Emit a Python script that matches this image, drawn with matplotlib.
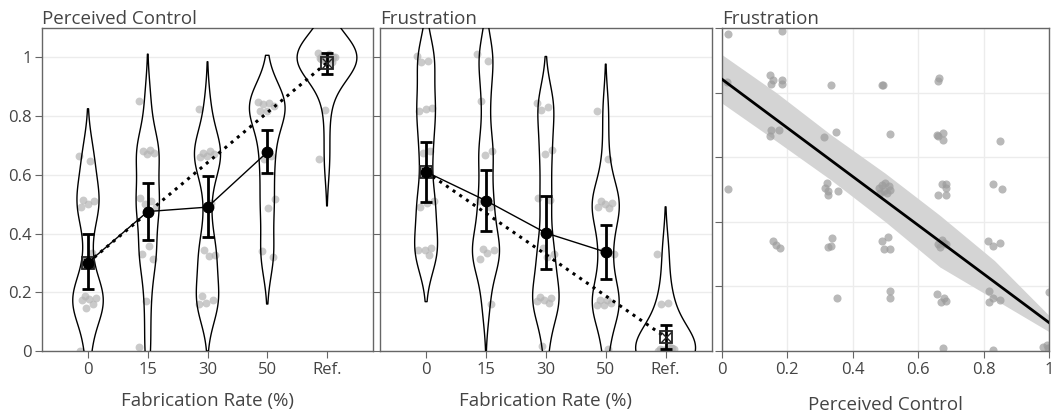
import numpy as np
import matplotlib.pyplot as plt

####figure settings####
plt.rcParams["font.family"] = ["Open Sans", "DejaVu Sans"]
plt.rcParams["axes.linewidth"] = 1.0
plt.rcParams["axes.edgecolor"] = "#666666"
plt.rcParams["xtick.color"] = "#666666"
plt.rcParams["ytick.color"] = "#666666"
plt.rcParams["xtick.labelcolor"] = "#444444"
plt.rcParams["ytick.labelcolor"] = "#444444"
plt.rcParams["xtick.labelsize"] = 12
plt.rcParams["ytick.labelsize"] = 12
plt.rcParams["xtick.major.size"] = 5
plt.rcParams["ytick.major.size"] = 5
plt.rcParams["xtick.major.pad"] = 3
plt.rcParams["ytick.major.pad"] = 2.5

####data####
groups = ["0", "15", "30", "50", "Ref."]

# perceived control, per group (jittered values as read)
pc_0 = [0.665, 0.646, 0.515, 0.512, 0.50, 0.49, 0.335, 0.188, 0.18, 0.178, 0.175, 0.16, 0.147, 0.0]
pc_15 = [0.851, 0.684, 0.68, 0.675, 0.67, 0.52, 0.51, 0.50, 0.49, 0.356, 0.33, 0.313, 0.171, 0.015]
pc_30 = [0.825, 0.68, 0.675, 0.67, 0.665, 0.66, 0.504, 0.345, 0.328, 0.324, 0.188, 0.174, 0.165, 0.16]
pc_50 = [0.847, 0.843, 0.84, 0.835, 0.819, 0.817, 0.665, 0.655, 0.518, 0.487, 0.339, 0.32]
pc_ref = [1.015, 1.01, 1.005, 1.0, 1.0, 0.998, 0.995, 0.99, 1.002, 1.008, 0.996, 0.985, 0.822, 0.654]

# frustration, per group
fr_0 = [1.004, 0.987, 0.984, 0.828, 0.825, 0.817, 0.68, 0.675, 0.51, 0.504, 0.489, 0.35, 0.345, 0.345, 0.328]
fr_15 = [1.01, 0.987, 0.851, 0.68, 0.669, 0.51, 0.49, 0.347, 0.345, 0.333, 0.313, 0.16]
fr_30 = [0.843, 0.832, 0.82, 0.684, 0.671, 0.521, 0.513, 0.35, 0.33, 0.32, 0.183, 0.18, 0.172, 0.17, 0.163, 0.017]
fr_50 = [0.817, 0.654, 0.51, 0.504, 0.50, 0.49, 0.487, 0.34, 0.33, 0.172, 0.172, 0.165, 0.157, 0.157, 0.006]
fr_ref = [0.331, 0.165, 0.16, 0.01, 0.005, 0.0, 0.012, 0.003, 0.008, 0.0, 0.006, 0.01, 0.004]

# estimated means and intervals for 0/15/30/50
pc_mean = [0.301, 0.475, 0.490, 0.677]
pc_lo = [0.211, 0.379, 0.387, 0.606]
pc_hi = [0.398, 0.572, 0.595, 0.751]
fr_mean = [0.610, 0.512, 0.402, 0.337]
fr_lo = [0.506, 0.407, 0.279, 0.245]
fr_hi = [0.711, 0.615, 0.529, 0.429]

# reference line (0 -> Ref.)
pc_ref_line = [0.301, 0.982]
pc_ref_lo, pc_ref_hi = 0.942, 1.014
fr_ref_line = [0.610, 0.047]
fr_ref_lo, fr_ref_hi = 0.007, 0.089

# scatter: perceived control vs frustration
sc_pc = [0.02, 0.183, 0.015, 0.148, 0.158, 0.151, 0.183, 0.185, 0.333, 0.489, 0.494, 0.665, 0.66,
         0.15, 0.175, 0.148, 0.313, 0.349, 0.514, 0.657, 0.677, 0.662, 0.677, 0.85,
         0.02, 0.321, 0.316, 0.326, 0.324, 0.354,
         0.48, 0.49, 0.50, 0.51, 0.495, 0.505, 0.515, 0.485,
         0.66, 0.672, 0.685, 0.685, 0.685, 0.83, 0.855,
         0.158, 0.166, 0.178, 0.324, 0.334, 0.336, 0.489, 0.507, 0.497, 0.514,
         0.66, 0.672, 0.68, 0.666, 0.685, 0.815, 0.828, 0.85,
         0.351, 0.514, 0.514, 0.657, 0.669, 0.68, 0.685, 0.818, 0.818, 0.828, 0.85, 1.0,
         0.677, 0.83, 0.983, 0.993, 0.997, 1.0]
sc_fr = [0.982, 0.992, 0.832, 0.853, 0.84, 0.827, 0.84, 0.827, 0.822, 0.825, 0.825, 0.845, 0.837,
         0.685, 0.685, 0.667, 0.661, 0.678, 0.673, 0.67, 0.675, 0.665, 0.654, 0.649,
         0.501, 0.52, 0.506, 0.494, 0.484, 0.494,
         0.505, 0.515, 0.52, 0.51, 0.495, 0.49, 0.50, 0.49,
         0.484, 0.516, 0.516, 0.505, 0.484, 0.518, 0.501,
         0.342, 0.329, 0.318, 0.323, 0.326, 0.349, 0.342, 0.352, 0.316, 0.315,
         0.33, 0.345, 0.335, 0.322, 0.33, 0.342, 0.326, 0.334,
         0.163, 0.186, 0.165, 0.176, 0.151, 0.165, 0.156, 0.186, 0.153, 0.165, 0.158, 0.184,
         0.008, 0.003, 0.013, 0.019, 0.008, 0.01]

# fitted line and band
fit_x = [0, 1]
fit_y = [0.842, 0.088]
band_x = [0, 1/6, 1/3, 1/2, 2/3, 5/6, 1]
band_hi = [0.918, 0.80, 0.67, 0.55, 0.42, 0.28, 0.11]
band_lo = [0.768, 0.65, 0.53, 0.40, 0.26, 0.16, 0.06]


def kde_stats(vals, bw=0.08, npts=300):
    d = np.asarray(vals, dtype=float)
    coords = np.linspace(d.min() - 2 * bw, d.max() + 2 * bw, npts)
    dens = np.exp(-0.5 * ((coords[:, None] - d[None, :]) / bw) ** 2).sum(1)
    dens = dens / (len(d) * bw * np.sqrt(2 * np.pi))
    return dict(coords=coords, vals=dens, mean=d.mean(), median=np.median(d),
                min=d.min(), max=d.max())


def violin_panel(ax, data, mean, lo, hi, ref_line, ref_lo, ref_hi):
    pos = np.arange(len(data))
    stats = [kde_stats(d) for d in data]
    peak = max(s["vals"].max() for s in stats)
    widths = [1.0 * s["vals"].max() / peak for s in stats]
    parts = ax.violin(stats, positions=pos, widths=widths,
                      showmeans=False, showextrema=False, showmedians=False)
    for b in parts["bodies"]:
        b.set_facecolor("none")
        b.set_edgecolor("black")
        b.set_linewidth(1.0)
        b.set_alpha(1)
        b.set_zorder(3)

    for i, d in enumerate(data):
        n = len(d)
        jit = ((np.arange(n) * 0.618) % 1 - 0.5) * 0.3
        ax.scatter(pos[i] + jit, d, s=32, color="#b4b4b4", alpha=0.7,
                   linewidths=0, zorder=2)

    x_ref = [pos[0], pos[-1]]
    ax.plot(x_ref, ref_line, ":", color="black", lw=2.2, zorder=4)
    ax.errorbar([pos[-1]], [ref_line[1]], yerr=[[ref_line[1] - ref_lo], [ref_hi - ref_line[1]]],
                fmt="none", ecolor="black", elinewidth=2, capsize=4, capthick=2, zorder=5)
    ax.plot(x_ref, ref_line, "s", ms=8, mfc="none", mec="#222222", mew=1.3, zorder=5)
    ax.plot(x_ref, ref_line, "x", ms=7, mec="#222222", mew=1.0, zorder=5)

    m = np.array(mean)
    ax.errorbar(pos[:-1], m, yerr=[m - np.array(lo), np.array(hi) - m],
                fmt="o-", color="black", lw=1, ms=7.5, elinewidth=2,
                capsize=4, capthick=2, zorder=6)

    ax.set_xlim(-0.77, 4.77)
    ax.set_ylim(0, 1.1)
    ax.set_xticks(pos)
    ax.set_xticklabels(groups)
    ax.set_yticks([0, 0.2, 0.4, 0.6, 0.8, 1.0])
    ax.yaxis.grid(True, color="#ececec", lw=1)
    ax.set_axisbelow(True)
    ax.set_xlabel("Fabrication Rate (%)", fontsize=13.5, color="#444444", labelpad=10)


fig = plt.figure(figsize=(10.58, 4.18), dpi=100)
ax1 = fig.add_axes([42 / 1058, 1 - 351 / 418, 331 / 1058, 323 / 418])
ax2 = fig.add_axes([380 / 1058, 1 - 351 / 418, 331.7 / 1058, 323 / 418])
ax3 = fig.add_axes([721.7 / 1058, 1 - 351 / 418, 327.3 / 1058, 323 / 418])

violin_panel(ax1, [pc_0, pc_15, pc_30, pc_50, pc_ref], pc_mean, pc_lo, pc_hi,
             pc_ref_line, pc_ref_lo, pc_ref_hi)
ax1.set_yticklabels(["0", "0.2", "0.4", "0.6", "0.8", "1"])
ax1.set_title("Perceived Control", loc="left", fontsize=13.5, color="#444444", pad=3)

violin_panel(ax2, [fr_0, fr_15, fr_30, fr_50, fr_ref], fr_mean, fr_lo, fr_hi,
             fr_ref_line, fr_ref_lo, fr_ref_hi)
ax2.set_yticklabels([])
ax2.set_title("Frustration", loc="left", fontsize=13.5, color="#444444", pad=3)

# scatter panel
ax3.fill_between(band_x, band_lo, band_hi, color="#d4d4d4", lw=0, zorder=1)
ax3.scatter(sc_pc, sc_fr, s=34, color="#9c9c9c", alpha=0.7, linewidths=0, zorder=2)
ax3.plot(fit_x, fit_y, color="black", lw=2, zorder=3)
ax3.set_xlim(0, 1)
ax3.set_ylim(0, 1)
ax3.set_xticks([0, 0.2, 0.4, 0.6, 0.8, 1.0])
ax3.set_xticklabels(["0", "0.2", "0.4", "0.6", "0.8", "1"])
ax3.set_yticks([0, 0.2, 0.4, 0.6, 0.8, 1.0])
ax3.set_yticklabels([])
ax3.grid(True, color="#ececec", lw=1)
ax3.set_axisbelow(True)
ax3.set_xlabel("Perceived Control", fontsize=13.5, color="#444444", labelpad=13)
ax3.set_title("Frustration", loc="left", fontsize=13.5, color="#444444", pad=3)

plt.savefig("out.png", dpi=100)
